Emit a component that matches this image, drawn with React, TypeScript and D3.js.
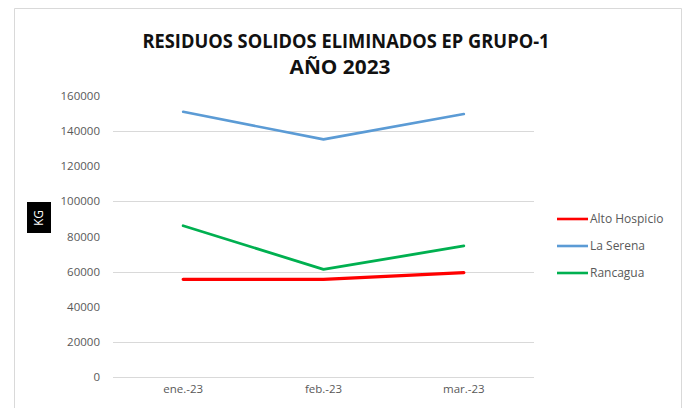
import React from "react";
import * as d3 from "d3";

// Data
const months = ["ene.-23", "feb.-23", "mar.-23"];
const altoHospicio = [55600, 55600, 59400];
const laSerena = [151000, 135300, 149700];
const rancagua = [86100, 61300, 74600];
const yTicks = [0, 20000, 40000, 60000, 80000, 100000, 120000, 140000, 160000];
const visibleGrid = [0, 20000, 60000, 100000, 140000];

const series = [
  { name: "Alto Hospicio", values: altoHospicio, color: "#FF0000", width: 3.2 },
  { name: "La Serena", values: laSerena, color: "#5B9BD5", width: 2.6 },
  { name: "Rancagua", values: rancagua, color: "#00B050", width: 2.8 },
];

const width = 688;
const height = 408;
const left = 113;
const right = 534;
const top = 96;
const bottom = 377;
const font = "'Open Sans', 'Noto Sans', sans-serif";

const App = () => {
  const x = d3.scaleBand().domain(months).range([left, right]);
  const y = d3.scaleLinear().domain([0, 160000]).range([bottom, top]);
  const line = d3
    .line<number>()
    .x((_, i) => (x(months[i]) as number) + x.bandwidth() / 2)
    .y((d) => y(d));

  return (
    <svg
      width={width}
      height={height}
      style={{ position: "absolute", left: 0, top: 0, background: "#fff" }}
    >
      {/* chart frame */}
      <path d="M14.5,420 V8.5 H681.5 V420" fill="none" stroke="#d9d9d9" strokeWidth={1} />

      {/* title */}
      <text
        x={346}
        y={48}
        textAnchor="middle"
        fontFamily="'Liberation Sans Narrow', 'Open Sans', sans-serif"
        fontWeight="bold"
        fontSize={20}
        fill="#111"
        textLength={407}
        lengthAdjust="spacingAndGlyphs"
      >
        RESIDUOS SOLIDOS ELIMINADOS EP GRUPO-1
      </text>
      <text
        x={340}
        y={74}
        textAnchor="middle"
        fontFamily="'Liberation Sans Narrow', 'Open Sans', sans-serif"
        fontWeight="bold"
        fontSize={20}
        fill="#111"
        textLength={101}
        lengthAdjust="spacingAndGlyphs"
      >
        AÑO 2023
      </text>

      {/* gridlines */}
      {visibleGrid.map((t) => (
        <line
          key={t}
          x1={left}
          x2={right}
          y1={Math.round(y(t)) + 0.5}
          y2={Math.round(y(t)) + 0.5}
          stroke="#d9d9d9"
          strokeWidth={1}
        />
      ))}

      {/* y tick labels */}
      {yTicks.map((t) => (
        <text
          key={t}
          x={100}
          y={y(t) + 4}
          textAnchor="end"
          fontFamily={font}
          fontSize={11.5}
          fill="#595959"
        >
          {t}
        </text>
      ))}

      {/* x tick labels */}
      {months.map((m) => (
        <text
          key={m}
          x={(x(m) as number) + x.bandwidth() / 2}
          y={393}
          textAnchor="middle"
          fontFamily={font}
          fontSize={11.5}
          fill="#595959"
        >
          {m}
        </text>
      ))}

      {/* axis title box */}
      <rect x={27} y={202} width={24} height={31} fill="#000" />
      <text
        transform="translate(43,218) rotate(-90)"
        textAnchor="middle"
        fontFamily={font}
        fontSize={12}
        fill="#fff"
      >
        KG
      </text>

      {/* series */}
      {series.map((s) => (
        <path
          key={s.name}
          d={line(s.values) as string}
          fill="none"
          stroke={s.color}
          strokeWidth={s.width}
          strokeLinejoin="round"
          strokeLinecap="round"
        />
      ))}

      {/* legend */}
      {series.map((s, i) => (
        <g key={s.name} transform={`translate(557,${219 + i * 27})`}>
          <line x1={0} x2={31} y1={0} y2={0} stroke={s.color} strokeWidth={2.6} />
          <text x={33} y={4} fontFamily={font} fontSize={12} fill="#595959">
            {s.name}
          </text>
        </g>
      ))}
    </svg>
  );
};

export default App;
